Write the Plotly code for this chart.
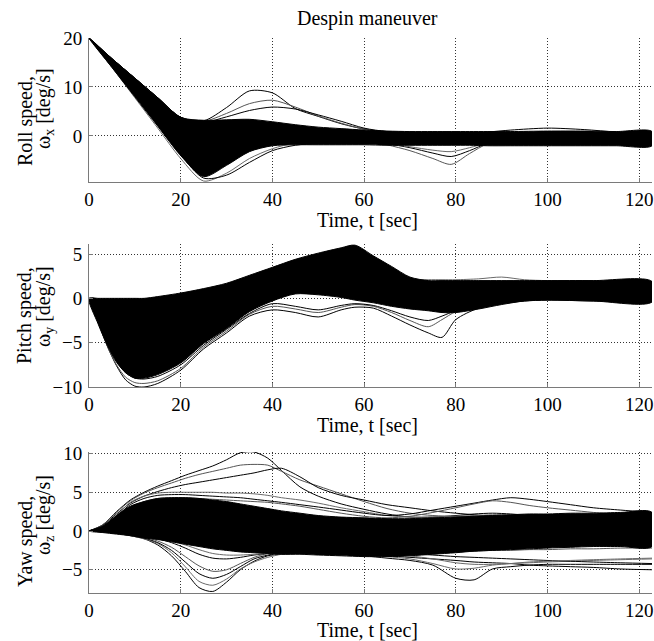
import plotly.graph_objects as go

# ---------------- data ----------------
roll_t = [0, 5, 10, 15, 20, 25, 30, 35, 40, 45, 50, 55, 60, 65, 70, 75, 79, 83, 87, 92, 100, 108, 115, 122.8]
roll_core_hi = [20, 15.8, 11.8, 7.8, 3.8, 3.2, 3.3, 3.4, 2.9, 2.3, 1.8, 1.5, 1.2, 1.0, 0.9, 0.9, 0.9, 0.9, 0.9, 0.9, 1.0, 1.0, 0.9, 0.9]
roll_core_lo = [20, 14.0, 8.0, 2.0, -4.0, -8.3, -6.0, -3.2, -2.0, -1.8, -1.8, -1.8, -1.8, -1.9, -1.9, -1.9, -1.9, -1.9, -2.0, -2.0, -2.0, -2.0, -2.0, -2.0]
roll_lines = [
    [20, 15.8, 11.8, 7.8, 3.8, 3.1, 5.8, 9.2, 8.8, 5.6, 4.0, 2.5, 1.4, 0.8, 0.6, 0.5, 0.5, 0.5, 0.5, 0.5, 0.6, 0.6, 0.5, 0.5],
    [20, 15.8, 11.8, 7.8, 3.8, 3.0, 4.6, 6.6, 7.3, 5.9, 4.1, 2.6, 1.4, 0.9, 0.7, 0.6, 0.6, 0.6, 0.6, 0.6, 0.7, 0.7, 0.6, 0.6],
    [20, 15.8, 11.8, 7.8, 3.8, 2.8, 3.9, 5.2, 5.9, 5.5, 4.3, 3.0, 1.6, 0.9, 0.7, 0.6, 0.6, 0.6, 0.6, 0.6, 0.7, 0.7, 0.6, 0.6],
    [20, 14.0, 7.8, 1.6, -4.6, -9.2, -7.6, -4.6, -2.6, -1.4, -0.9, -0.7, -0.8, -1.0, -1.2, -1.3, -1.3, -1.3, -1.3, -1.3, -1.3, -1.3, -1.3, -1.3],
    [20, 14.3, 8.4, 2.4, -3.8, -8.6, -8.0, -5.4, -3.0, -1.9, -1.5, -1.4, -1.5, -1.6, -1.7, -1.7, -1.7, -1.7, -1.7, -1.7, -1.7, -1.7, -1.7, -1.7],
    [20, 14.5, 9.0, 3.4, -2.5, -6.5, -5.0, -2.4, -1.0, -0.4, -0.3, -0.4, -0.8, -1.8, -3.0, -4.6, -5.8, -3.6, -1.6, -1.2, -0.9, -0.8, -0.8, -0.8],
    [20, 14.6, 9.2, 3.6, -2.2, -6.0, -4.4, -2.0, -0.8, -0.3, -0.3, -0.6, -1.2, -1.6, -2.4, -3.5, -4.2, -3.0, -1.5, -1.0, -0.8, -0.8, -0.8, -0.8],
    [20, 14.8, 9.6, 4.2, -1.6, -5.4, -3.8, -1.6, -0.5, -0.1, -0.2, -0.5, -1.0, -1.5, -2.2, -2.9, -3.2, -2.4, -1.4, -0.9, -0.7, -0.7, -0.7, -0.7],
    [20, 15.2, 10.4, 5.6, 0.8, -2.8, -2.4, -0.8, 0.3, 0.6, 0.6, 0.5, 0.3, 0.2, 0.2, 0.2, 0.3, 0.5, 0.8, 1.2, 1.6, 1.3, 0.8, 0.3],
]

pitch_t = [0, 2, 4, 6, 8, 10, 12, 15, 20, 25, 30, 35, 40, 45, 50, 55, 58, 62, 66, 70, 74, 77, 80, 85, 90, 95, 100, 110, 122.8]
pitch_core_hi = [0, 0, 0, 0, 0, 0, 0, 0.2, 0.6, 1.1, 1.7, 2.6, 3.5, 4.4, 5.1, 5.7, 6.0, 4.8, 3.6, 2.4, 2.0, 2.0, 2.0, 2.0, 2.0, 2.0, 2.0, 2.0, 1.9]
pitch_core_lo = [0, -2.9, -5.3, -7.2, -8.4, -9.0, -9.0, -8.6, -7.3, -5.1, -3.4, -1.5, -0.3, 0.5, 0.4, 0.1, -0.2, -0.5, -0.9, -1.2, -1.4, -1.6, -1.6, -1.2, -0.7, -0.3, -0.2, -0.3, -0.4]
pitch_lines = [
    [0, -2.6, -5.4, -7.6, -9.2, -9.9, -10.0, -9.6, -8.1, -5.7, -3.9, -2.0, -1.3, -1.6, -2.1, -1.3, -1.0, -1.1, -2.0, -3.0, -3.9, -4.4, -2.4, -1.1, -0.6, -0.3, -0.2, -0.3, -0.4],
    [0, -2.7, -5.4, -7.5, -8.9, -9.5, -9.6, -9.3, -7.9, -5.5, -3.7, -1.8, -0.9, -1.2, -1.6, -1.0, -0.7, -0.9, -1.6, -2.5, -3.2, -2.4, -1.5, -0.9, -0.5, -0.2, -0.1, -0.2, -0.3],
    [0, -2.5, -5.0, -7.0, -8.4, -9.0, -9.1, -8.8, -7.5, -5.3, -3.5, -1.7, -0.6, -0.9, -1.3, -0.8, -0.6, -0.8, -1.4, -2.1, -2.5, -2.0, -1.4, -0.9, -0.4, -0.2, -0.1, -0.2, -0.3],
    [0, -1.0, -2.0, -3.0, -3.6, -4.0, -4.1, -4.0, -3.3, -2.0, -0.6, 0.8, 2.0, 3.0, 3.6, 3.2, 2.8, 2.4, 2.2, 2.1, 2.1, 2.1, 2.1, 2.2, 2.4, 2.1, 2.0, 2.0, 1.9],
]

yaw_t = [0, 3, 6, 9, 12, 15, 18, 21, 24, 27, 30, 33, 36, 39, 42, 46, 50, 55, 60, 65, 70, 75, 80, 84, 88, 92, 96, 100, 105, 110, 116, 122.8]
yaw_core_hi = [0, 0.6, 2.0, 3.2, 3.8, 4.2, 4.3, 4.3, 4.2, 4.0, 3.8, 3.5, 3.2, 2.9, 2.6, 2.3, 2.0, 1.8, 1.7, 1.6, 1.6, 1.7, 1.8, 1.9, 2.0, 2.1, 2.2, 2.2, 2.3, 2.3, 2.4, 2.4]
yaw_core_lo = [0, -0.2, -0.4, -0.6, -0.9, -1.1, -1.4, -1.7, -2.0, -2.3, -2.5, -2.7, -2.8, -2.9, -3.0, -3.0, -3.1, -3.2, -3.3, -3.3, -3.2, -3.0, -2.8, -2.6, -2.5, -2.4, -2.3, -2.2, -2.1, -2.0, -2.0, -2.0]
yaw_lines = [
    [0, 0.8, 2.5, 4.0, 5.0, 5.8, 6.5, 7.2, 7.8, 8.4, 9.2, 10.1, 10.2, 9.4, 7.8, 5.7, 4.5, 3.5, 2.8, 2.2, 1.8, 1.8, 2.0, 2.2, 2.3, 2.2, 2.0, 1.8, 1.6, 1.4, 1.2, 1.0],
    [0, 0.8, 2.4, 3.9, 4.9, 5.6, 6.2, 6.8, 7.3, 7.7, 8.1, 8.5, 8.6, 8.5, 7.7, 6.6, 5.8, 4.8, 3.8, 2.9, 2.3, 2.0, 1.9, 1.9, 2.0, 2.0, 1.9, 1.8, 1.7, 1.6, 1.5, 1.4],
    [0, 0.7, 2.2, 3.6, 4.5, 5.1, 5.6, 6.0, 6.3, 6.6, 6.9, 7.2, 7.5, 7.9, 8.1, 7.0, 5.6, 4.6, 4.0, 3.4, 3.0, 2.6, 2.3, 2.1, 1.9, 1.7, 1.5, 1.3, 1.1, 0.9, 0.7, 0.5],
    [0, 0.6, 2.0, 3.7, 4.5, 4.9, 5.0, 5.0, 5.0, 5.0, 4.9, 4.9, 4.8, 4.6, 4.3, 4.0, 3.6, 3.0, 2.5, 2.0, 1.8, 1.8, 1.9, 2.0, 2.1, 2.1, 2.1, 2.0, 2.0, 1.9, 1.9, 1.8],
    [0, 0.6, 1.9, 3.4, 4.2, 4.6, 4.7, 4.7, 4.6, 4.5, 4.4, 4.3, 4.1, 3.9, 3.7, 3.4, 3.1, 2.7, 2.3, 2.0, 2.2, 2.7, 3.2, 3.6, 4.0, 4.3, 4.1, 3.8, 3.4, 3.0, 2.7, 2.4],
    [0, 0.5, 1.7, 3.0, 3.8, 4.2, 4.3, 4.3, 4.2, 4.1, 4.0, 3.9, 3.8, 3.7, 3.5, 3.2, 2.8, 2.3, 1.9, 1.7, 1.9, 2.4, 3.0, 3.5, 3.9, 3.7, 3.3, 3.0, 2.7, 2.4, 2.1, 1.8],
    [0, -0.1, -0.3, -0.6, -1.0, -1.8, -3.2, -5.2, -7.3, -7.8, -6.6, -5.0, -3.9, -3.2, -3.0, -2.9, -2.9, -3.0, -3.1, -3.2, -3.4, -3.6, -3.8, -4.0, -4.1, -4.2, -4.4, -4.5, -4.6, -4.7, -4.9, -5.0],
    [0, -0.1, -0.3, -0.6, -1.0, -1.6, -2.8, -4.6, -6.5, -7.0, -6.2, -4.9, -4.0, -3.4, -3.0, -2.7, -2.6, -2.6, -2.7, -2.9, -3.2, -3.6, -4.1, -4.3, -4.3, -4.2, -4.1, -4.0, -3.9, -3.8, -3.7, -3.6],
    [0, -0.1, -0.3, -0.5, -0.9, -1.5, -2.5, -4.0, -5.5, -6.1, -5.6, -4.6, -3.6, -3.1, -2.8, -2.6, -2.5, -2.5, -2.6, -2.7, -2.9, -3.1, -3.3, -3.4, -3.5, -3.6, -3.7, -3.8, -3.9, -4.0, -4.1, -4.2],
    [0, -0.1, -0.3, -0.5, -0.8, -1.3, -2.1, -3.3, -4.5, -5.2, -5.0, -4.2, -3.4, -2.9, -2.6, -2.4, -2.3, -2.3, -2.4, -2.5, -2.6, -2.6, -2.6, -2.6, -2.5, -2.5, -2.4, -2.4, -2.3, -2.3, -2.2, -2.2],
    [0, -0.1, -0.2, -0.4, -0.7, -1.0, -1.5, -2.2, -3.0, -3.5, -3.6, -3.4, -3.1, -2.9, -2.8, -2.8, -2.9, -3.0, -3.2, -3.5, -3.8, -4.4, -6.1, -6.3, -4.9, -4.6, -4.4, -4.3, -4.3, -4.3, -4.3, -4.3],
    [0, -0.1, -0.2, -0.4, -0.6, -0.9, -1.3, -1.8, -2.4, -2.9, -3.1, -3.1, -3.0, -2.9, -2.8, -2.8, -2.9, -3.0, -3.1, -3.3, -3.6, -4.2, -4.9, -4.8, -4.4, -4.2, -4.0, -3.9, -3.8, -3.7, -3.6, -3.5],
]

x_ticks = [0, 20, 40, 60, 80, 100, 120]
roll_yticks = [0, 10, 20]
pitch_yticks = [-10, -5, 0, 5]
yaw_yticks = [-5, 0, 5, 10]

title_text = "Despin maneuver"
x_title = "Time, t [sec]"
y_titles = [("Roll speed,", "ω<sub>x</sub> [deg/s]"),
            ("Pitch speed,", "ω<sub>y</sub> [deg/s]"),
            ("Yaw speed,", "ω<sub>z</sub> [deg/s]")]

# ---------------- layout helpers (pixel geometry) ----------------
W, H = 654, 641
def fx(px):
    return px / W
def fy(py):
    return 1 - py / H

FONT = "Liberation Serif, Times New Roman, serif"
FS = 20        # titles and labels
FS_TICK = 19   # tick labels
LINE_COLORS = ["#000000", "#555555", "#000000", "#6a6a6a"]

fig = go.Figure()

panels = [
    (roll_t, roll_core_hi, roll_core_lo, roll_lines, "x", "y"),
    (pitch_t, pitch_core_hi, pitch_core_lo, pitch_lines, "x2", "y2"),
    (yaw_t, yaw_core_hi, yaw_core_lo, yaw_lines, "x3", "y3"),
]

for t, hi, lo, lines, xa, ya in panels:
    for i, row in enumerate(lines):
        fig.add_trace(go.Scatter(
            x=t, y=row, mode="lines",
            line=dict(color=LINE_COLORS[i % len(LINE_COLORS)], width=1, shape="spline", smoothing=0.8),
            xaxis=xa, yaxis=ya, hoverinfo="skip", showlegend=False))
    fig.add_trace(go.Scatter(
        x=t + t[::-1], y=hi + lo[::-1], mode="lines", fill="toself",
        fillcolor="#000000", line=dict(color="#000000", width=1, shape="spline", smoothing=0.8),
        xaxis=xa, yaxis=ya, hoverinfo="skip", showlegend=False))

axis_common = dict(
    showgrid=True, gridcolor="#333333", griddash="1px,2px", gridwidth=1,
    zeroline=False, showline=True, linecolor="#7a7a7a", linewidth=1,
    ticks="inside", ticklen=4, tickcolor="#7a7a7a",
    tickfont=dict(family=FONT, size=FS_TICK, color="#000000"),
    mirror=False, automargin=False,
)

x_dom = [fx(89), fx(652)]
y_doms = [[fy(182), fy(38)], [fy(387), fy(244)], [fy(593), fy(452)]]
y_ranges = [[-9.4, 20], [-10, 6.13], [-8, 10.2]]
y_tickvals = [roll_yticks, pitch_yticks, yaw_yticks]

layout = dict(
    autosize=True, margin=dict(l=0, r=0, t=0, b=0, autoexpand=False),
    paper_bgcolor="white", plot_bgcolor="white", showlegend=False,
    font=dict(family=FONT, size=FS, color="#000000"),
)
for k in range(3):
    sx = "" if k == 0 else str(k + 1)
    layout["xaxis" + sx] = dict(axis_common, domain=x_dom, range=[0, 122.8],
                                tickvals=x_ticks, anchor="y" + sx, ticklabelstandoff=0)
    layout["yaxis" + sx] = dict(axis_common, domain=y_doms[k], range=y_ranges[k],
                                tickvals=y_tickvals[k], anchor="x" + sx, ticklabelstandoff=2)
fig.update_layout(**layout)

ann = [dict(text=title_text, x=fx(367), y=fy(18), xref="paper", yref="paper",
            showarrow=False, font=dict(family=FONT, size=FS), xanchor="center", yanchor="middle")]
for py in [220, 425, 630]:
    ann.append(dict(text=x_title, x=fx(367), y=fy(py), xref="paper", yref="paper",
                    showarrow=False, font=dict(family=FONT, size=FS), xanchor="center", yanchor="middle"))
label_pos = [(121, 108), (316, 306), (542, 515)]
for (l1, l2), (c1, c2) in zip(y_titles, label_pos):
    ann.append(dict(text=l1, x=fx(25), y=fy(c1), xref="paper", yref="paper", textangle=-90,
                    showarrow=False, font=dict(family=FONT, size=FS), xanchor="center", yanchor="middle"))
    ann.append(dict(text=l2, x=fx(44), y=fy(c2), xref="paper", yref="paper", textangle=-90,
                    showarrow=False, font=dict(family=FONT, size=FS), xanchor="center", yanchor="middle"))
fig.update_layout(annotations=ann)

# the figure div is pinned to the page's top-left corner at exactly W x H pixels
fig.write_html("out.html",
               default_width=f"{W}px; position:absolute; left:0; top:0",
               default_height=f"{H}px",
               post_script="document.body.style.margin='0';",
               config={"displayModeBar": False})
